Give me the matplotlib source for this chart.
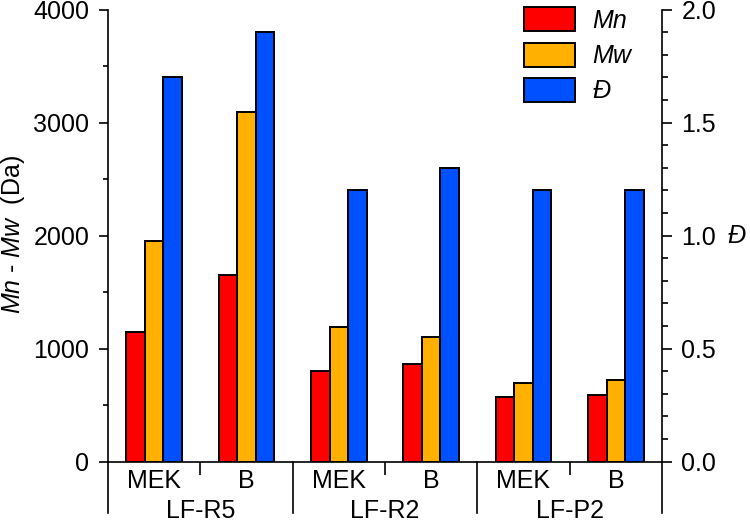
import matplotlib
matplotlib.use("Agg")
import matplotlib.pyplot as plt
from matplotlib.patches import Patch
from matplotlib.lines import Line2D
import numpy as np

plt.rcParams['font.family'] = ['Liberation Sans', 'DejaVu Sans']
plt.rcParams['mathtext.fontset'] = 'custom'
plt.rcParams['mathtext.it'] = 'Liberation Sans:italic'
plt.rcParams['mathtext.rm'] = 'Liberation Sans'

groups = ["LF-R5", "LF-R2", "LF-P2"]
solvents = ["MEK", "B", "MEK", "B", "MEK", "B"]
mn = [1150, 1650, 800, 860, 570, 590]
mw = [1950, 3090, 1190, 1100, 700, 720]
disp = [1.70, 1.90, 1.20, 1.30, 1.20, 1.20]

c_mn = "#FF0000"
c_mw = "#FFB000"
c_d = "#0050FF"

FS = 18
EW = 1.4
fig = plt.figure(figsize=(7.5, 5.22), dpi=100)
ax_h = (461.7 - 9.5) / 522
ax = fig.add_axes([108/750, 1-461.7/522, (662-108)/750, ax_h])
ax2 = ax.twinx()

x = np.arange(len(solvents))
w = 0.2
ax.bar(x - w, mn, w, color=c_mn, edgecolor="black", linewidth=EW, zorder=3)
ax.bar(x, mw, w, color=c_mw, edgecolor="black", linewidth=EW, zorder=3)
ax2.bar(x + w, disp, w, color=c_d, edgecolor="black", linewidth=EW, zorder=3)

ax.set_xlim(-0.5, len(solvents) - 0.5)
ax.set_ylim(0, 4000)
ax2.set_ylim(0, 2.0)

ax.set_yticks(np.arange(0, 4001, 1000))
ax.set_yticks(np.arange(0, 4001, 500), minor=True)
ax2.set_yticks(np.arange(0, 2.01, 0.5))
ax2.set_yticks(np.arange(0, 2.01, 0.1), minor=True)
ax2.set_yticklabels([f"{v:.1f}" for v in np.arange(0, 2.01, 0.5)])

for a in (ax, ax2):
    a.spines['top'].set_visible(False)
    for s in a.spines.values():
        s.set_linewidth(1.2)
ax2.spines['left'].set_visible(False)
ax2.spines['bottom'].set_visible(False)
ax.spines['right'].set_visible(False)

ax.tick_params(axis='y', which='major', length=6.5, width=1.2, pad=7, labelsize=FS, direction='out')
ax.tick_params(axis='y', which='minor', length=3.6, width=1.2, direction='out')
ax2.tick_params(axis='y', which='major', length=7, width=1.2, pad=7, labelsize=FS, direction='out')
ax2.tick_params(axis='y', which='minor', length=4.5, width=1.2, direction='out')

# x axis: labels at centres, short ticks at subgroup boundaries
ax.set_xticks(x)
ax.set_xticklabels(solvents, fontsize=FS)
ax.tick_params(axis='x', which='major', length=0, pad=5)
ax.set_xticks([0.5, 2.5, 4.5], minor=True)
ax.tick_params(axis='x', which='minor', length=9.5, width=1.2, direction='out')

# long separators between groups
px_h = 461.7 - 9.5
sep_len = (512.5 - 461.7) / px_h
for xf in [0, 1/3, 2/3, 1]:
    ax.add_line(Line2D([xf, xf], [0, -sep_len], transform=ax.transAxes,
                       color="black", linewidth=1.2, clip_on=False))

# group labels
for i, g in enumerate(groups):
    ax.text((2*i + 1) / 6, -(511.5 - 461.7) / px_h, g, transform=ax.transAxes,
            ha="center", va="center", fontsize=FS)

fig.text(13/750, 1 - 235/522, r"$\mathit{Mn}$ - $\mathit{Mw}$  (Da)", fontsize=FS,
         rotation=90, ha="center", va="center")
fig.text(737/750, 1 - 236/522, "Đ", fontsize=FS, style="italic", ha="center", va="center")

handles = [Patch(facecolor=c_mn, edgecolor="black", linewidth=EW),
           Patch(facecolor=c_mw, edgecolor="black", linewidth=EW),
           Patch(facecolor=c_d, edgecolor="black", linewidth=EW)]
labels = ["Mn", "Mw", "Đ"]
leg = ax2.legend(handles, labels, loc="upper left", bbox_to_anchor=(524/750, 1 - 7/522),
                 bbox_transform=fig.transFigure, frameon=False, fontsize=FS,
                 handlelength=2.04, handleheight=1.1, labelspacing=0.4,
                 handletextpad=0.7, borderpad=0, borderaxespad=0)
for t in leg.get_texts():
    t.set_fontstyle("italic")

fig.savefig("out.png", dpi=100)
